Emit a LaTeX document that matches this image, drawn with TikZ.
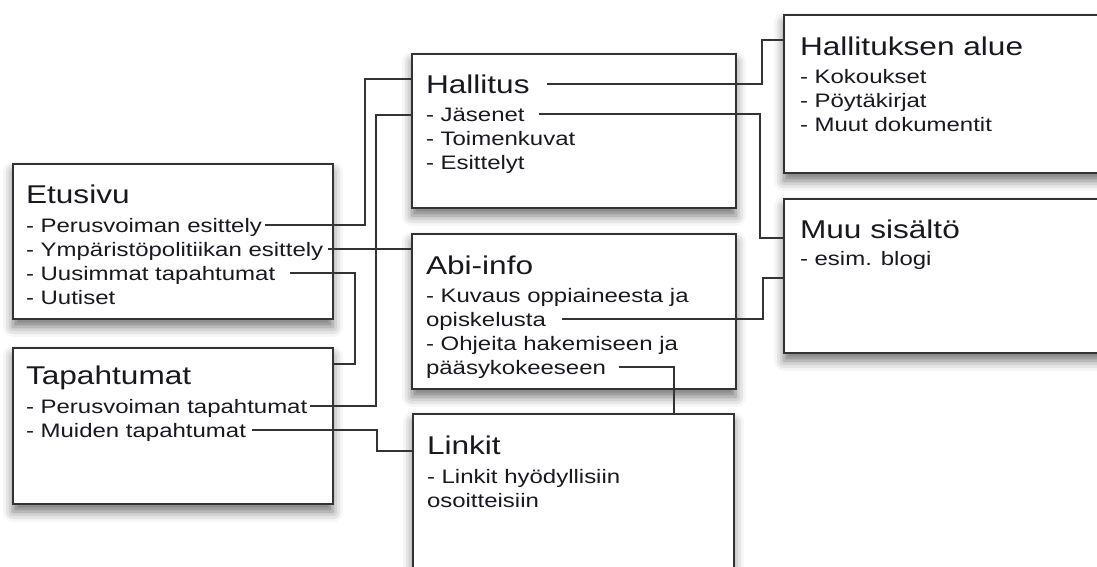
\documentclass[tikz,border=0pt]{standalone}
\usepackage{fontspec}
\setmainfont{Liberation Sans}[FakeStretch=1.23]
\usetikzlibrary{positioning,shadows.blur}
\definecolor{linegray}{HTML}{333333}
\definecolor{inkgray}{HTML}{18181F}

\begin{document}
\begin{tikzpicture}[x=1pt,y=-1pt,line width=1.8pt,node distance=24pt]
  \tikzstyle{box}=[draw=linegray,fill=white,rectangle,anchor=north west,
                   blur shadow={shadow xshift=0pt,shadow yshift=-8pt,
                                shadow blur radius=10pt,shadow opacity=55}]
  \tikzstyle{heading}=[anchor=base west,inner sep=0pt,outer sep=3pt,text=inkgray,
                       text height=18.4pt,text depth=0pt,font=\fontsize{25.7}{30}\selectfont]
  \tikzstyle{item}=[anchor=base west,inner sep=0pt,outer sep=3pt,text=inkgray,
                    text height=14pt,text depth=0pt,font=\fontsize{19.5}{24}\selectfont]
  \tikzstyle{link}=[draw=linegray,line width=1.6pt]

  \useasboundingbox (0,0) rectangle (1097,566);
  \clip (0,0) rectangle (1097,566);

  % boxes
  \node[box,minimum width=320pt,minimum height=155pt] (etusivu)    at (12,163)  {};
  \node[box,minimum width=320pt,minimum height=156pt] (tapahtumat) at (12,347)  {};
  \node[box,minimum width=324pt,minimum height=154pt] (hallitus)   at (411,53)  {};
  \node[box,minimum width=324pt,minimum height=155pt] (abiinfo)    at (411,233) {};
  \node[box,minimum width=321pt,minimum height=200pt] (linkit)     at (412,413) {};
  \node[box,minimum width=340pt,minimum height=158pt] (halue)      at (783,14)  {};
  \node[box,minimum width=340pt,minimum height=154pt] (muu)        at (783,198) {};

  % Etusivu
  \node[heading] (etu-t) at (23,203) {Etusivu};
  \node[item] (etu1) [below=29pt of etu-t.base west,anchor=base west] {- Perusvoiman esittely};
  \node[item] (etu2) [below=of etu1.base west,anchor=base west] {- Ympäristöpolitiikan esittely};
  \node[item] (etu3) [below=of etu2.base west,anchor=base west] {- Uusimmat tapahtumat};
  \node[item] (etu4) [below=of etu3.base west,anchor=base west] {- Uutiset};

  % Tapahtumat
  \node[heading] (tap-t) at (23,384) {Tapahtumat};
  \node[item] (tap1) [below=29pt of tap-t.base west,anchor=base west] {- Perusvoiman tapahtumat};
  \node[item] (tap2) [below=of tap1.base west,anchor=base west] {- Muiden tapahtumat};

  % Hallitus
  \node[heading] (hall-t) at (423,93) {Hallitus};
  \node[item] (hall1) [below=28pt of hall-t.base west,anchor=base west] {- Jäsenet};
  \node[item] (hall2) [below=of hall1.base west,anchor=base west] {- Toimenkuvat};
  \node[item] (hall3) [below=of hall2.base west,anchor=base west] {- Esittelyt};

  % Abi-info
  \node[heading] (abi-t) at (423,274) {Abi-info};
  \node[item] (abi1) [below=28pt of abi-t.base west,anchor=base west] {- Kuvaus oppiaineesta ja};
  \node[item] (abi2) [below=of abi1.base west,anchor=base west] {opiskelusta};
  \node[item] (abi3) [below=of abi2.base west,anchor=base west] {- Ohjeita hakemiseen ja};
  \node[item] (abi4) [below=of abi3.base west,anchor=base west] {pääsykokeeseen};

  % Linkit
  \node[heading] (link-t) at (424,454) {Linkit};
  \node[item] (link1) [below=29pt of link-t.base west,anchor=base west] {- Linkit hyödyllisiin};
  \node[item] (link2) [below=of link1.base west,anchor=base west] {osoitteisiin};

  % Hallituksen alue
  \node[heading] (halue-t) at (797,55) {Hallituksen alue};
  \node[item] (halue1) [below=28pt of halue-t.base west,anchor=base west] {- Kokoukset};
  \node[item] (halue2) [below=of halue1.base west,anchor=base west] {- Pöytäkirjat};
  \node[item] (halue3) [below=of halue2.base west,anchor=base west] {- Muut dokumentit};

  % Muu sisältö
  \node[heading] (muu-t) at (797,238) {Muu sisältö};
  \node[item] (muu1) [below=27pt of muu-t.base west,anchor=base west] {- esim. blogi};

  % connectors
  \draw[link,shorten <=14pt] (hall-t.east) -| (762,40) -- (halue.west |- 0,40);
  \draw[link,shorten <=11pt] (hall1.east) -| (760,238) -- (muu.west |- 0,238);
  \draw[link,shorten <=13pt] (abi2.east) -| (763,278) -- (muu.west |- 0,278);
  \draw[link] (etu1.east) -| (365,79) -- (hallitus.west |- 0,79);
  \draw[link,shorten <=2pt] (etu2.east) -- (abiinfo.west |- etu2.east);
  \draw[link,shorten <=12pt] (etu3.east) -| (355,364) -- (tapahtumat.east |- 0,364);
  \draw[link] (tap1.east) -| (376,115) -- (hallitus.west |- 0,115);
  \draw[link,shorten <=3pt] (tap2.east) -| (377,451) -- (linkit.west |- 0,451);
  \draw[link,shorten <=10pt] (abi4.east) -| (linkit.north -| 674,0);
\end{tikzpicture}
\end{document}
